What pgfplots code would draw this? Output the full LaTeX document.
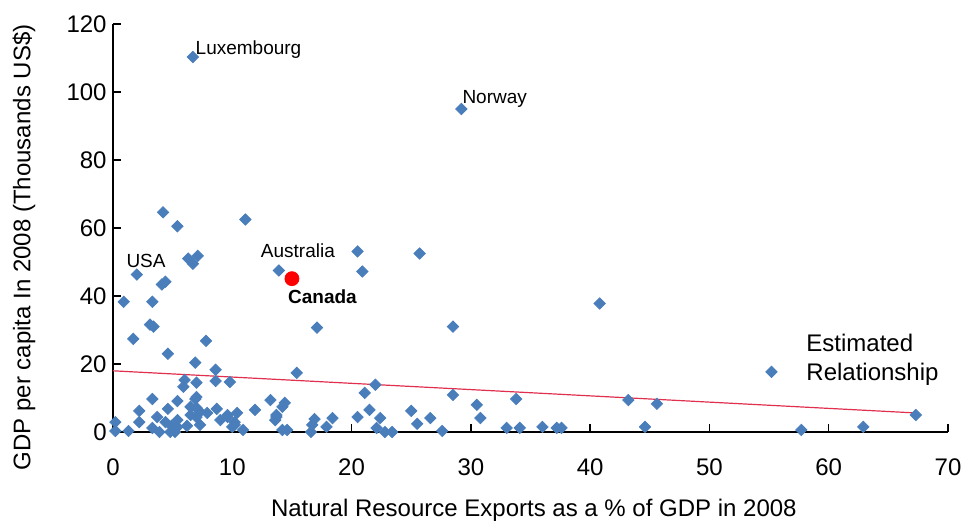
\documentclass[border=0pt]{standalone}
\usepackage{pgfplots}
\pgfplotsset{compat=1.18}
\usepackage{fontspec}
\setmainfont{Liberation Sans}
\definecolor{ptblue}{HTML}{4A7EBB}
\definecolor{trendred}{HTML}{E0304E}
\begin{document}
\begin{tikzpicture}
\useasboundingbox (-56.5bp,-44.5bp) rectangle (426bp,216bp);
\begin{axis}[
  at={(0,0)}, anchor=south west,
  scale only axis, width=417.5bp, height=204bp,
  xmin=0, xmax=70, ymin=0, ymax=120,
  axis lines*=left,
  hide obscured x ticks=false, hide obscured y ticks=false,
  axis line style={line width=0.7bp, black},
  xtick={0,10,...,70}, ytick={0,20,...,120},
  tick align=inside, major tick length=4bp,
  tick style={line width=0.7bp, black},
  xtick pos=left, ytick pos=left,
  /pgf/number format/assume math mode=true,
  ticklabel style={font=\fontsize{12bp}{14.4bp}\selectfont},
  xticklabel style={anchor=center, inner sep=0pt, yshift=-17.5bp},
  yticklabel style={anchor=east, inner sep=0pt, xshift=-3bp},
  every axis x label/.style={at={(axis description cs:0.504,0)}, anchor=center, yshift=-39bp, font=\fontsize{12bp}{14.4bp}\selectfont},
  every axis y label/.style={at={(axis description cs:0,0.4525)}, rotate=90, anchor=center, yshift=44.5bp, font=\fontsize{12bp}{14.4bp}\selectfont},
  xlabel={Natural Resource Exports as a \% of GDP in 2008},
  ylabel={GDP per capita In 2008 (Thousands US\$)},
  clip=false,
]
\addplot[only marks, mark=square*, mark size=2bp, mark options={rotate=45, draw=ptblue, fill=ptblue}] table {
x y
6.7 110.3
29.2 95.0
4.2 64.6
5.4 60.5
11.1 62.5
20.5 53.1
25.7 52.5
20.9 47.2
2.0 46.3
6.3 51.0
7.1 51.8
6.7 49.5
4.4 44.2
4.1 43.4
0.9 38.3
3.3 38.3
13.9 47.5
17.1 30.7
28.5 31.0
40.8 37.8
3.1 31.6
3.4 31.0
1.7 27.4
7.8 26.8
4.6 23.0
6.9 20.4
8.6 18.3
8.6 15.0
9.8 14.7
6.0 15.3
5.9 13.3
7.0 14.5
15.4 17.4
3.3 9.7
5.4 9.1
2.2 6.2
4.6 6.8
6.9 9.7
7.0 10.3
6.5 7.4
7.3 5.9
7.9 5.6
8.7 6.8
7.0 4.4
2.2 2.9
3.7 4.4
4.4 2.9
5.4 3.5
4.9 1.8
3.3 1.2
3.9 0.0
5.2 0.0
6.2 1.8
0.2 2.9
0.2 0.3
1.3 0.3
9.0 3.5
9.6 4.4
9.6 5.0
10.4 5.6
10.2 2.9
10.2 2.1
10.0 1.5
10.9 0.6
11.9 6.5
13.2 9.4
14.2 7.4
14.4 8.6
13.7 5.0
13.7 4.4
13.6 3.5
14.2 0.6
14.6 0.6
21.1 11.5
22.0 13.9
28.5 10.9
16.7 2.1
16.9 3.8
16.6 0.0
17.9 1.5
18.4 4.1
20.5 4.4
21.5 6.5
22.4 4.1
22.1 1.2
22.8 0.0
23.4 0.0
25.0 6.2
25.5 2.4
26.6 4.1
27.6 0.3
30.5 8.0
30.8 4.1
33.8 9.7
33.0 1.2
34.1 1.2
36.0 1.5
37.2 1.2
37.6 1.2
43.2 9.4
44.6 1.5
45.6 8.3
55.2 17.7
57.7 0.6
62.9 1.5
67.3 5.0
7.0 7.1
6.5 5.0
4.8 0.0
5.4 1.5
7.3 2.1
};
\addplot[no marks, color=trendred, line width=0.6bp] coordinates {(0,18.0) (67.3,5.6)};
\addplot[only marks, mark=*, mark size=3.5bp, mark options={draw=red, fill=red}] coordinates {(15.0,45.1)};
\node[font=\fontsize{9.5bp}{11bp}\selectfont, inner sep=0pt] at (axis cs:11.36,112.4) {Luxembourg};
\node[font=\fontsize{9.5bp}{11bp}\selectfont, inner sep=0pt] at (axis cs:32.0,97.9) {Norway};
\node[font=\fontsize{9.5bp}{11bp}\selectfont, inner sep=0pt] at (axis cs:2.77,50.4) {USA};
\node[font=\fontsize{9.5bp}{11bp}\selectfont, inner sep=0pt] at (axis cs:15.5,53.4) {Australia};
\node[font=\fontsize{9.5bp}{11bp}\selectfont\bfseries, inner sep=0pt] at (axis cs:17.56,39.8) {Canada};
\node[font=\fontsize{12bp}{14.5bp}\selectfont, inner sep=0pt, align=left, anchor=west] at (axis cs:58.1,21.1) {Estimated\\Relationship};
\end{axis}
\end{tikzpicture}
\end{document}
